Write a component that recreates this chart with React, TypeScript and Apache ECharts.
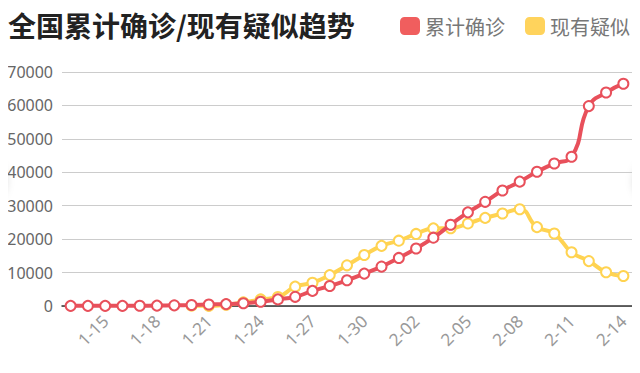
import React, { useEffect, useRef } from "react";
import * as echarts from "echarts";

const categories = [
  "1-13", "1-14", "1-15", "1-16", "1-17", "1-18", "1-19", "1-20", "1-21", "1-22", "1-23",
  "1-24", "1-25", "1-26", "1-27", "1-28", "1-29", "1-30", "1-31", "2-01", "2-02", "2-03",
  "2-04", "2-05", "2-06", "2-07", "2-08", "2-09", "2-10", "2-11", "2-12", "2-13", "2-14",
];

const confirmed = [
  41, 41, 41, 45, 62, 121, 198, 291, 440, 571, 830,
  1287, 1975, 2744, 4515, 5974, 7711, 9692, 11791, 14380, 17205, 20438,
  24324, 28018, 31161, 34546, 37198, 40171, 42638, 44653, 59804, 63851, 66492,
];

const suspected = [
  null, null, null, null, null, null, null, 100, 50, 393, 1072,
  1965, 2684, 5794, 6973, 9239, 12167, 15238, 17988, 19544, 21558, 23214,
  23260, 24702, 26359, 27657, 28942, 23589, 21675, 16067, 13435, 10109, 8969,
];

const seriesNames = ["累计确诊", "现有疑似"];
const yTicks = { min: 0, max: 70000, interval: 10000 };

const RED = "#e8505b";
const YELLOW = "#ffd351";
const FONT = "'Microsoft YaHei', 'Noto Sans', 'Noto Sans CJK SC', sans-serif";
const CJK = "'Microsoft YaHei', 'Noto Sans CJK SC', sans-serif";

export default function App() {
  const ref = useRef<HTMLDivElement>(null);
  useEffect(() => {
    if (!ref.current) return;
    const chart = echarts.init(ref.current, null, { renderer: "svg" });
    chart.setOption({
      animation: false,
      textStyle: { fontFamily: FONT },
      title: {
        text: "全国累计确诊/现有疑似趋势",
        left: 8,
        top: 11,
        padding: 0,
        textStyle: { fontSize: 28, fontWeight: "bold", color: "#222", fontFamily: CJK },
      },
      legend: {
        right: 10,
        top: 16,
        padding: 0,
        itemWidth: 20,
        itemHeight: 18,
        itemGap: 20,
        icon: "roundRect",
        textStyle: { fontSize: 20, color: "#777", fontFamily: CJK },
        data: [
          { name: seriesNames[0], itemStyle: { color: "#f05e5e" } },
          { name: seriesNames[1], itemStyle: { color: "#ffd35c" } },
        ],
      },
      graphic: [
        {
          type: "circle",
          z: -1,
          shape: { cx: -18, cy: 181, r: 24 },
          style: { fill: "#fff", shadowBlur: 8, shadowColor: "rgba(0,0,0,0.18)" },
        },
        {
          type: "circle",
          z: -1,
          shape: { cx: 658, cy: 181, r: 24 },
          style: { fill: "#fff", shadowBlur: 8, shadowColor: "rgba(0,0,0,0.18)" },
        },
      ],
      grid: { left: 62, right: 8, top: 72, bottom: 67 },
      xAxis: {
        type: "category",
        data: categories,
        boundaryGap: true,
        axisTick: { show: false },
        axisLine: { lineStyle: { color: "#333", width: 1.5 } },
        axisLabel: {
          rotate: 45,
          color: "#999",
          fontSize: 17,
          fontFamily: FONT,
          margin: 12,
          interval: (index: number) => index % 3 === 2,
        },
      },
      yAxis: {
        type: "value",
        min: yTicks.min,
        max: yTicks.max,
        interval: yTicks.interval,
        axisLine: { show: false },
        axisTick: { show: false },
        axisLabel: {
          color: "#666",
          fontSize: 16,
          fontFamily: FONT,
          margin: 9,
          formatter: (v: number) => String(v),
        },
        splitLine: { lineStyle: { color: "#ccc", width: 1 } },
      },
      series: [
        {
          name: seriesNames[0],
          type: "line",
          data: confirmed,
          smooth: true,
          symbol: "emptyCircle",
          symbolSize: 10,
          z: 3,
          lineStyle: { color: RED, width: 4 },
          itemStyle: { color: RED, borderWidth: 1.5 },
        },
        {
          name: seriesNames[1],
          type: "line",
          data: suspected,
          smooth: true,
          symbol: "emptyCircle",
          symbolSize: 10,
          z: 2,
          lineStyle: { color: YELLOW, width: 4 },
          itemStyle: { color: YELLOW, borderWidth: 1.5 },
        },
      ],
    });
    return () => chart.dispose();
  }, []);
  return <div ref={ref} style={{ width: 640, height: 373, margin: -8 }} />;
}
